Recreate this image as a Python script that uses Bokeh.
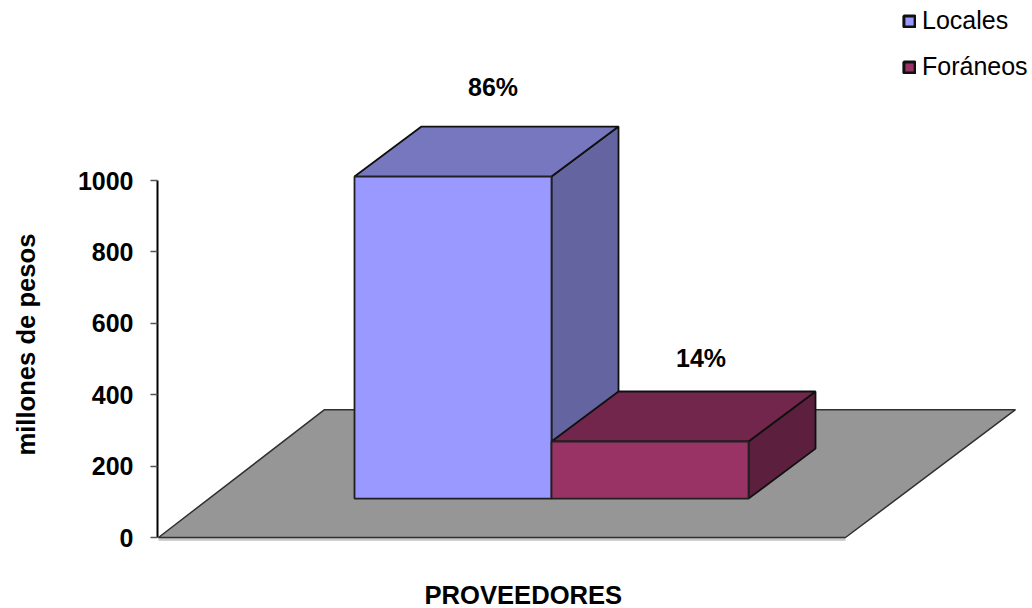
from bokeh.plotting import figure
from bokeh.models import Range1d, LinearAxis, FixedTicker, Legend, LegendItem, Title
from bokeh.core.properties import value
from bokeh.embed import file_html
from bokeh.resources import INLINE

# ---- data
categories = ["Locales", "Foráneos"]
values = [902, 160]
percent_labels = ["86%", "14%"]
y_ticks = [0, 200, 400, 600, 800, 1000]
y_title = "millones de pesos"
x_title = "PROVEEDORES"

# ---- styles
front_colors = ["#9999ff", "#993366"]
top_colors = ["#7777bf", "#73264c"]
side_colors = ["#6464a0", "#5c1f3d"]
FONT = "Liberation Sans"
SIZE = "25px"
TITLE_SIZE = "25.6px"

# ---- layout of the oblique projection, in data units
W, H = 1032, 608
SLOT = 197          # bar width
FIRST = 197         # left edge of the first bar
DX, DY = 67, 140    # depth shift of a bar
BASE = 109          # height of bar bases above the floor's front edge
FLOOR_W = 687
FLOOR_DX_L, FLOOR_DX_R, FLOOR_DY = 166, 170, 358

p = figure(width=W, height=H, output_backend="svg", toolbar_location=None,
           x_range=Range1d(0, W - 157), y_range=Range1d(-114.8, 1504.2),
           x_axis_type=None, y_axis_type=None,
           min_border_left=157, min_border_right=0, min_border_top=0, min_border_bottom=30)
p.grid.visible = False
p.outline_line_color = None
p.background_fill_color = None
p.border_fill_color = "white"

# floor
p.line([1, 1 + FLOOR_W], [-5, -5], line_color="#c4c4c4", line_width=3)
p.patch([1, 1 + FLOOR_W, 1 + FLOOR_W + FLOOR_DX_R, 1 + FLOOR_DX_L],
        [0, 0, FLOOR_DY, FLOOR_DY],
        fill_color="#969696", line_color="#303030", line_width=1.5)

# bars
for i, v in enumerate(values):
    x0 = FIRST + i * SLOT
    x1 = x0 + SLOT
    y0, y1 = BASE, BASE + v
    p.patch([x1, x1 + DX, x1 + DX, x1], [y0, y0 + DY, y1 + DY, y1],
            fill_color=side_colors[i], line_color="#101010", line_width=1.8)
    p.patch([x0, x1, x1 + DX, x0 + DX], [y1, y1, y1 + DY, y1 + DY],
            fill_color=top_colors[i], line_color="#101010", line_width=1.8)
    p.quad(left=[x0], right=[x1], bottom=[y0], top=[y1],
           fill_color=front_colors[i], line_color="#202020", line_width=1.8)

# percentage labels
label_x = [FIRST + i * SLOT + SLOT / 2 + off for i, off in enumerate([40, 51])]
label_y = [BASE + v + DY + off for v, off in zip(values, [112, 95])]
p.text(label_x, label_y, text=percent_labels, text_font=value(FONT), text_font_style="bold",
       text_font_size=SIZE, text_color="#000000", text_align="center", text_baseline="middle")

# axes (the blank axis label only keeps the y title away from the tick labels)
ya = LinearAxis(ticker=FixedTicker(ticks=y_ticks), bounds=(0, 1000), axis_label=" ")
ya.axis_line_color = "#000000"
ya.axis_line_width = 2
ya.major_tick_line_color = "#555555"
ya.major_tick_line_width = 1.5
ya.major_tick_in = 0
ya.major_tick_out = 7
ya.minor_tick_line_color = None
ya.major_label_text_font = FONT
ya.major_label_text_font_style = "bold"
ya.major_label_text_font_size = SIZE
ya.major_label_text_color = "#000000"
ya.major_label_standoff = 17
ya.axis_label_text_font_size = "1px"
ya.axis_label_standoff = 22
p.add_layout(ya, "left")

# axis titles
p.add_layout(Title(text=y_title, align="left", offset=123, standoff=17, text_font=FONT,
                   text_font_style="bold", text_font_size=TITLE_SIZE, text_color="#000000"), "left")
p.add_layout(Title(text=x_title, align="left", offset=267, standoff=0, text_font=FONT,
                   text_font_style="bold", text_font_size=TITLE_SIZE, text_color="#000000"), "below")

# legend
items = []
for i, name in enumerate(categories):
    r = p.quad(left=[float("nan")], right=[float("nan")], bottom=[float("nan")], top=[float("nan")],
               fill_color=front_colors[i], line_color="#101010", line_width=3)
    items.append(LegendItem(label=value(name), renderers=[r]))
legend = Legend(items=items, location=(745, 497), orientation="vertical",
                background_fill_alpha=0, border_line_color=None,
                padding=0, margin=0, spacing=17, glyph_width=14, glyph_height=14,
                label_height=20, label_standoff=6,
                label_text_font=FONT, label_text_font_size=SIZE, label_text_color="#000000")
p.add_layout(legend, "center")

open("out.html", "w").write(file_html(p, INLINE))
